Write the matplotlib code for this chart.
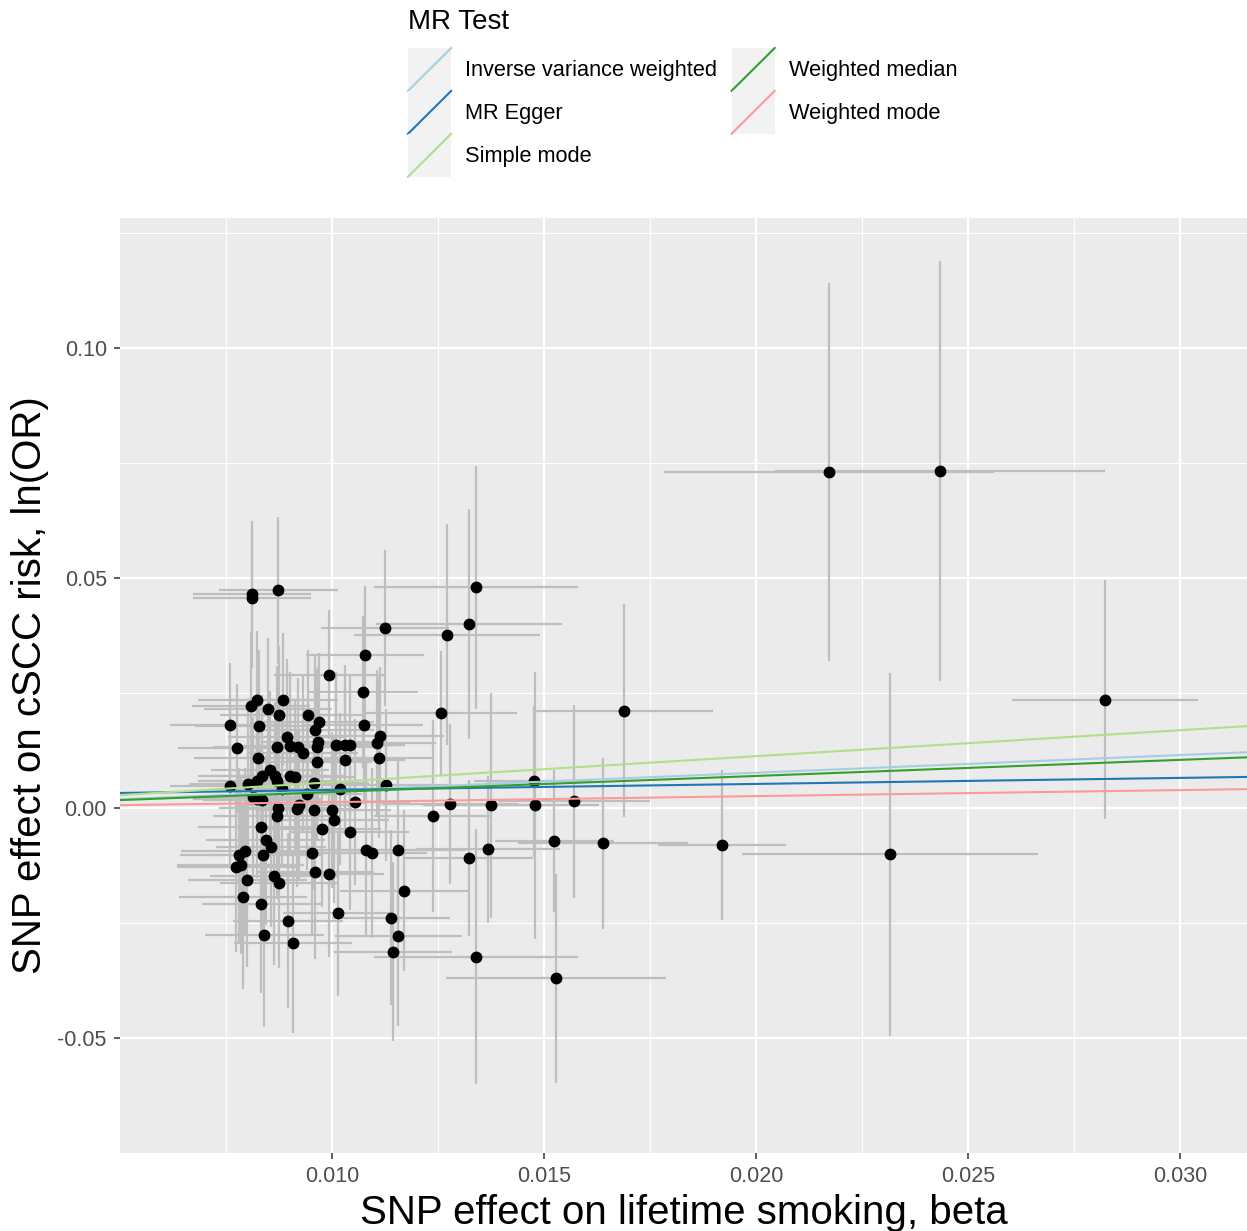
import numpy as np
import matplotlib
matplotlib.use("Agg")
import matplotlib.pyplot as plt
from matplotlib.legend_handler import HandlerBase
from matplotlib.patches import Rectangle
from matplotlib.lines import Line2D

plt.rcParams['font.family'] = ['Liberation Sans', 'DejaVu Sans']

# SNP effects on exposure (x) and outcome (y), with their standard errors
bx = [0.02172, 0.02434, 0.02823, 0.02316, 0.01920, 0.01689, 0.01639, 0.01524,
      0.01528, 0.01571, 0.01479, 0.01476, 0.01375, 0.01278, 0.01238, 0.01368,
      0.01323, 0.01340, 0.01340, 0.01323, 0.01271, 0.01125, 0.01257, 0.01078,
      0.01073, 0.01075, 0.01113, 0.01106, 0.01111, 0.01127, 0.01054, 0.01042,
      0.01080, 0.01094, 0.01156, 0.01170, 0.01139, 0.01156, 0.01144, 0.01014,
      0.00811, 0.00811, 0.00873, 0.00993, 0.00823, 0.00809, 0.00884, 0.00849,
      0.00875, 0.00943, 0.00759, 0.00828, 0.00969, 0.00960, 0.00894, 0.00901,
      0.00920, 0.00932, 0.00870, 0.00776, 0.00967, 0.00965, 0.01010, 0.01031,
      0.01042, 0.01031, 0.00825, 0.00965, 0.00854, 0.00866, 0.00835, 0.00823,
      0.00870, 0.00802, 0.00901, 0.00913, 0.00958, 0.00759, 0.01020, 0.00882,
      0.00814, 0.00835, 0.00823, 0.00941, 0.00873, 0.00870, 0.00917, 0.00922,
      0.00958, 0.01000, 0.01005, 0.00833, 0.00976, 0.00844, 0.00856, 0.00795,
      0.00781, 0.00837, 0.00953, 0.00785, 0.00774, 0.00960, 0.00993, 0.00863,
      0.00875, 0.00800, 0.00790, 0.00833, 0.00896, 0.00840, 0.00908]
by = [0.0732, 0.0734, 0.0236, -0.0100, -0.0080, 0.0212, -0.0076, -0.0071,
      -0.0370, 0.0015, 0.0006, 0.0058, 0.0006, 0.0009, -0.0017, -0.0089,
      -0.0108, -0.0323, 0.0480, 0.0400, 0.0377, 0.0392, 0.0206, 0.0333,
      0.0253, 0.0180, 0.0156, 0.0141, 0.0110, 0.0050, 0.0013, -0.0052,
      -0.0091, -0.0097, -0.0091, -0.0180, -0.0238, -0.0279, -0.0312, -0.0229,
      0.0465, 0.0458, 0.0474, 0.0290, 0.0236, 0.0223, 0.0236, 0.0216,
      0.0203, 0.0203, 0.0180, 0.0178, 0.0188, 0.0171, 0.0154, 0.0136,
      0.0132, 0.0121, 0.0134, 0.0130, 0.0143, 0.0132, 0.0137, 0.0137,
      0.0137, 0.0104, 0.0108, 0.0100, 0.0084, 0.0071, 0.0071, 0.0058,
      0.0058, 0.0052, 0.0071, 0.0067, 0.0054, 0.0048, 0.0041, 0.0041,
      0.0024, 0.0017, 0.0019, 0.0030, 0.0000, -0.0017, -0.0002, 0.0006,
      -0.0004, -0.0004, -0.0026, -0.0041, -0.0045, -0.0069, -0.0084, -0.0093,
      -0.0102, -0.0102, -0.0097, -0.0123, -0.0128, -0.0139, -0.0143, -0.0147,
      -0.0162, -0.0156, -0.0193, -0.0208, -0.0245, -0.0275, -0.0294]
se_x = [0.0039, 0.0039, 0.0022, 0.0035, 0.0015, 0.0021, 0.0020, 0.0014,
        0.0026, 0.0018, 0.0015, 0.0014, 0.0016, 0.0016, 0.0014, 0.0017,
        0.0015, 0.0024, 0.0024, 0.0022, 0.0022, 0.0015, 0.0018, 0.0014,
        0.0013, 0.0014, 0.0015, 0.0014, 0.0013, 0.0015, 0.0013, 0.0014,
        0.0014, 0.0013, 0.0016, 0.0015, 0.0014, 0.0015, 0.0014, 0.0013,
        0.0014, 0.0014, 0.0014, 0.0013, 0.0014, 0.0014, 0.0013, 0.0015,
        0.0014, 0.0013, 0.0014, 0.0015, 0.0013, 0.0014, 0.0014, 0.0013,
        0.0014, 0.0013, 0.0015, 0.0014, 0.0013, 0.0014, 0.0013, 0.0014,
        0.0013, 0.0014, 0.0015, 0.0013, 0.0014, 0.0013, 0.0015, 0.0014,
        0.0013, 0.0014, 0.0013, 0.0014, 0.0013, 0.0014, 0.0013, 0.0015,
        0.0014, 0.0014, 0.0015, 0.0013, 0.0014, 0.0015, 0.0013, 0.0014,
        0.0013, 0.0014, 0.0013, 0.0015, 0.0014, 0.0014, 0.0013, 0.0015,
        0.0014, 0.0014, 0.0013, 0.0015, 0.0014, 0.0014, 0.0013, 0.0015,
        0.0014, 0.0014, 0.0015, 0.0014, 0.0013, 0.0014, 0.0014]
se_y = [0.0411, 0.0457, 0.0260, 0.0395, 0.0163, 0.0232, 0.0186, 0.0154,
        0.0227, 0.0210, 0.0290, 0.0165, 0.0245, 0.0175, 0.0208, 0.0160,
        0.0170, 0.0277, 0.0265, 0.0250, 0.0240, 0.0170, 0.0135, 0.0150,
        0.0165, 0.0170, 0.0150, 0.0160, 0.0175, 0.0165, 0.0180, 0.0170,
        0.0190, 0.0185, 0.0200, 0.0175, 0.0190, 0.0195, 0.0195, 0.0180,
        0.0160, 0.0150, 0.0160, 0.0140, 0.0150, 0.0160, 0.0145, 0.0155,
        0.0150, 0.0140, 0.0135, 0.0165, 0.0150, 0.0160, 0.0170, 0.0160,
        0.0150, 0.0170, 0.0175, 0.0140, 0.0165, 0.0170, 0.0160, 0.0175,
        0.0155, 0.0160, 0.0165, 0.0170, 0.0170, 0.0160, 0.0175, 0.0165,
        0.0170, 0.0160, 0.0175, 0.0165, 0.0160, 0.0170, 0.0165, 0.0170,
        0.0175, 0.0180, 0.0170, 0.0165, 0.0175, 0.0180, 0.0170, 0.0165,
        0.0175, 0.0170, 0.0180, 0.0175, 0.0170, 0.0185, 0.0175, 0.0180,
        0.0190, 0.0185, 0.0180, 0.0195, 0.0185, 0.0190, 0.0180, 0.0195,
        0.0185, 0.0190, 0.0200, 0.0195, 0.0190, 0.0200, 0.0195]

# MR estimates (slope, intercept) for each method
methods = ["Inverse variance weighted", "MR Egger", "Simple mode",
           "Weighted median", "Weighted mode"]
slopes = [0.385, 0.131, 0.565, 0.350, 0.131]
intercepts = [0.0, 0.00265, 0.0, 0.0, 0.0]
colors = ["#a6cee3", "#1f78b4", "#b2df8a", "#33a02c", "#fb9a99"]

xticks = [0.010, 0.015, 0.020, 0.025, 0.030]
xticklabels = ["0.010", "0.015", "0.020", "0.025", "0.030"]
yticks = [-0.05, 0.00, 0.05, 0.10]
yticklabels = ["-0.05", "0.00", "0.05", "0.10"]


class HandlerDiag(HandlerBase):
    # ggplot style abline key: grey box with a diagonal line
    def create_artists(self, legend, orig_handle, xdescent, ydescent,
                       width, height, fontsize, trans):
        box = Rectangle((-xdescent, -ydescent), width, height,
                        facecolor="#F2F2F2", edgecolor="none", transform=trans)
        line = Line2D([-xdescent, -xdescent + width],
                      [-ydescent, -ydescent + height],
                      color=orig_handle.get_color(),
                      lw=orig_handle.get_linewidth(), transform=trans)
        return [box, line]


W, H = 1247, 1231
fig = plt.figure(figsize=(W / 100, H / 100), dpi=100)
ax = fig.add_axes([120 / W, (H - 1153) / H, 1127 / W, (1153 - 218) / H])
ax.set_facecolor("#EBEBEB")

xlim = (0.005, 0.03158)
ylim = (-0.07403, 0.12835)

ax.errorbar(bx, by, xerr=se_x, yerr=se_y, fmt="none", ecolor="#BEBEBE",
            elinewidth=1.6, capsize=0, zorder=2)
ax.plot(bx, by, "o", color="black", markersize=7.5, zorder=3)

xs = np.array(xlim)
handles = []
for name, b, a, c in zip(methods, slopes, intercepts, colors):
    ln, = ax.plot(xs, a + b * xs, color=c, lw=1.5, zorder=4, label=name)
    handles.append(ln)

ax.set_xlim(*xlim)
ax.set_ylim(*ylim)

ax.set_xticks(xticks)
ax.set_xticklabels(xticklabels)
ax.set_yticks(yticks)
ax.set_yticklabels(yticklabels)
ax.set_xticks([0.0075, 0.0125, 0.0175, 0.0225, 0.0275], minor=True)
ax.set_yticks([-0.075, -0.025, 0.025, 0.075, 0.125], minor=True)
ax.grid(which="major", color="white", lw=1.6)
ax.grid(which="minor", color="white", lw=0.8)
ax.set_axisbelow(True)
ax.tick_params(which="major", length=4.5, width=1.1, color="#333333",
               labelcolor="#4D4D4D", labelsize=15.5, pad=5)
ax.tick_params(which="minor", length=0)
for s in ax.spines.values():
    s.set_visible(False)

ax.set_xlabel("SNP effect on lifetime smoking, beta", fontsize=29, labelpad=5)
ax.set_ylabel("SNP effect on cSCC risk, ln(OR)", fontsize=29, labelpad=6)

# legend on top, title as separate text
fig.text(408 / W, 1 - 22 / H, "MR Test", fontsize=20, ha="left", va="center")
leg = fig.legend(handles, methods, ncol=2, loc="upper left",
                 bbox_to_anchor=(408 / W, 1 - 48 / H), frameon=False,
                 fontsize=15.7, handler_map={Line2D: HandlerDiag()},
                 handlelength=1.98, handleheight=2.65, labelspacing=0,
                 handletextpad=0.64, columnspacing=0.66, borderpad=0,
                 borderaxespad=0)

fig.savefig("out.png", dpi=100)
